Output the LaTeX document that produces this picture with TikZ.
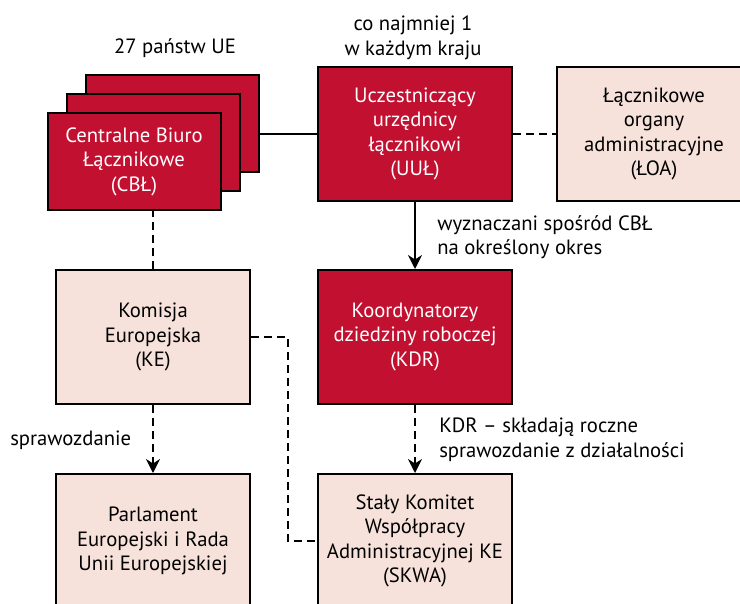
\documentclass[tikz,border=0pt]{standalone}
\usepackage{fontspec}
\setmainfont{PT Sans}
\usetikzlibrary{arrows.meta}
\definecolor{darkred}{RGB}{193,16,48}
\definecolor{lightpink}{RGB}{247,226,219}
\tikzset{
  txt/.style={font=\fontsize{15.5}{18.4}\selectfont},
  box/.style={txt, draw=black, line width=1.5pt, minimum width=145.5pt, minimum height=100.5pt, align=center, inner sep=2pt},
  redbox/.style={box, fill=darkred, text=white},
  pinkbox/.style={box, fill=lightpink, text=black},
  cblbox/.style={redbox, minimum width=129.75pt, minimum height=72.75pt},
  conn/.style={line width=1.5pt},
  dconn/.style={conn, dash pattern=on 6pt off 3.75pt},
  tip/.style={-{Stealth[length=10.5pt, width=10.5pt]}},
  lbl/.style={txt, align=left, inner sep=0pt},
  clbl/.style={txt, align=center, inner sep=0pt}
}
\begin{document}
\begin{tikzpicture}[x=0.75pt, y=-0.75pt]
\useasboundingbox (0,0) rectangle (740,604);
\clip (0,0) rectangle (740,604);
% CBL stack
\node[cblbox] (cbl3) at (172.5,123.5) {};
\node[cblbox] (cbl2) at (153.5,142.5) {};
\node[cblbox] (cbl1) at (134,161.5) {Centralne Biuro\\Łącznikowe\\(CBŁ)};
\node[redbox] (uul) at (415,134) {Uczestniczący\\urzędnicy\\łącznikowi\\(UUŁ)};
\node[pinkbox] (loa) at (654,134) {Łącznikowe\\organy\\administracyjne\\(ŁOA)};
\node[pinkbox] (ke) at (153,337) {Komisja\\Europejska\\(KE)};
\node[redbox] (kdr) at (415,337) {Koordynatorzy\\dziedziny roboczej\\(KDR)};
\node[pinkbox] (parl) at (153,541) {Parlament\\Europejski i Rada\\Unii Europejskiej};
\node[pinkbox] (skwa) at (415,541) {Stały Komitet\\Współpracy\\Administracyjnej KE\\(SKWA)};
% labels
\node[clbl] (l27) at (175,48) {27 państw UE};
\node[clbl] (lco) at (413,38) {co najmniej 1\\w każdym kraju};
\node[lbl, anchor=west] (lwyz) at (437,237) {wyznaczani spośród CBŁ\\na określony okres};
\node[lbl, anchor=west] (lspr) at (10,440) {sprawozdanie};
\node[lbl, anchor=west] (lkdr) at (439,440) {KDR – składają roczne\\sprawozdanie z działalności};
% connectors
\draw[conn] (uul.west) -- (uul.west -| cbl3.east);
\draw[dconn] (uul.east) -- (loa.west);
\draw[dconn] (ke.north) -- (ke.north |- cbl1.south);
\draw[conn, tip] (uul.south) -- (kdr.north);
\draw[dconn, tip] (ke.south) -- (parl.north);
\draw[dconn, tip] (kdr.south) -- (skwa.north);
\coordinate (bend) at (288,337);
\draw[dconn] (ke.east) -- (bend) |- (skwa.west);
\end{tikzpicture}
\end{document}
